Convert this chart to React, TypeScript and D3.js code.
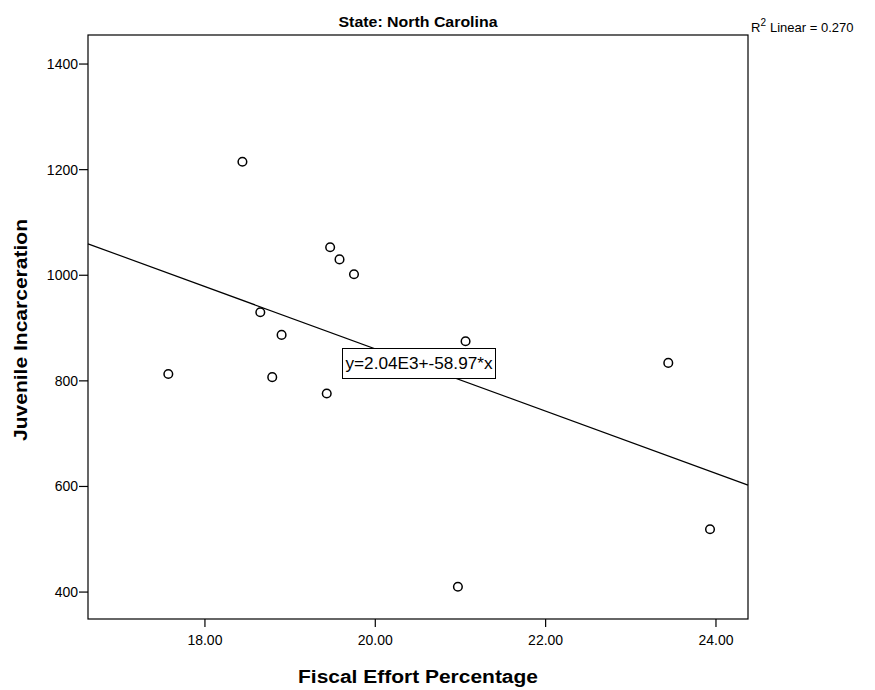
import React from "react";
import * as d3 from "d3";

const fiscalEffort = [18.44, 19.47, 19.58, 19.75, 18.65, 18.9, 17.57, 18.79, 19.43, 21.06, 23.44, 23.93, 20.97];
const incarceration = [1215, 1053, 1030, 1002, 930, 887, 813, 807, 776, 875, 834, 519, 410];
const xTicks = [18, 20, 22, 24];
const yTicks = [400, 600, 800, 1000, 1200, 1400];
const fitIntercept = 2040;
const fitSlope = -58.97;
const title = "State: North Carolina";
const xLabel = "Fiscal Effort Percentage";
const yLabel = "Juvenile Incarceration";
const equationLabel = "y=2.04E3+-58.97*x";
const r2Label = "Linear = 0.270";

const W = 875;
const H = 690;
const L = 88, R = 748, T = 35, B = 619;

export default function App() {
  const x = d3.scaleLinear().domain([16.627, 24.376]).range([L, R]);
  const y = d3.scaleLinear().domain([349, 1455]).range([B, T]);
  const [x0, x1] = x.domain();
  const line = d3.line<number>().x((d) => x(d)).y((d) => y(fitIntercept + fitSlope * d));
  const font = "'Liberation Sans', Arial, sans-serif";
  return (
    <svg width={W} height={H} style={{ position: "absolute", left: 0, top: 0, background: "#fff" }} fontFamily={font}>
      <rect x={0} y={0} width={W} height={H} fill="#fff" />
      <text x={(L + R) / 2} y={27} textAnchor="middle" fontSize={14} fontWeight="bold" textLength={159} lengthAdjust="spacingAndGlyphs">{title}</text>
      <text x={751} y={32} fontSize={13}>
        R<tspan dy={-6} fontSize={10}>2</tspan><tspan dy={6} dx={4}>{r2Label}</tspan>
      </text>
      <path d={line([x0, x1]) || ""} fill="none" stroke="#000" strokeWidth={1.2} />
      {fiscalEffort.map((fx, i) => (
        <circle key={i} cx={x(fx)} cy={y(incarceration[i])} r={4.3} fill="#fff" stroke="#000" strokeWidth={1.5} />
      ))}
      <rect x={342.5} y={348.5} width={153} height={30} fill="#fff" stroke="#000" strokeWidth={1} />
      <text x={419} y={369} textAnchor="middle" fontSize={16} textLength={147} lengthAdjust="spacingAndGlyphs">{equationLabel}</text>
      <rect x={L} y={T} width={R - L} height={B - T} fill="none" stroke="#000" strokeWidth={1.2} />
      {yTicks.map((t) => (
        <g key={t}>
          <line x1={L - 9} x2={L} y1={y(t)} y2={y(t)} stroke="#000" strokeWidth={1.2} />
          <text x={L - 10} y={y(t) + 5} textAnchor="end" fontSize={14}>{t}</text>
        </g>
      ))}
      {xTicks.map((t) => (
        <g key={t}>
          <line x1={x(t)} x2={x(t)} y1={B} y2={B + 8} stroke="#000" strokeWidth={1.2} />
          <text x={x(t)} y={645} textAnchor="middle" fontSize={14}>{d3.format(".2f")(t)}</text>
        </g>
      ))}
      <text x={(L + R) / 2} y={683} textAnchor="middle" fontSize={18} fontWeight="bold" textLength={240} lengthAdjust="spacingAndGlyphs">{xLabel}</text>
      <text transform={`translate(27,${(T + B) / 2 + 3}) rotate(-90)`} textAnchor="middle" fontSize={18} fontWeight="bold" textLength={222} lengthAdjust="spacingAndGlyphs">{yLabel}</text>
    </svg>
  );
}
